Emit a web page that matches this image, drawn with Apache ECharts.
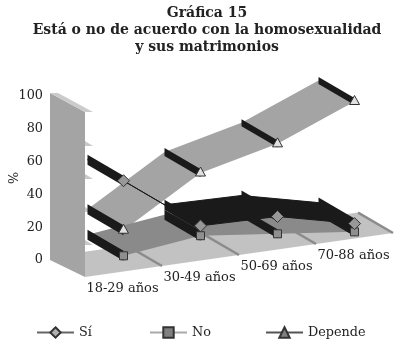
<!DOCTYPE html>
<html><head><meta charset="utf-8">
<style>html,body{margin:0;padding:0;background:#fff}#c{width:409px;height:350px}</style>
<script src="https://cdn.jsdelivr.net/npm/echarts@6/dist/echarts.min.js"></script>
</head><body><div id="c"></div>
<script>
const titleText = 'Gráfica 15\nEstá o no de acuerdo con la homosexualidad\ny sus matrimonios';
const categories = ['18-29 años','30-49 años','50-69 años','70-88 años'];
const siValues = [55,21,20,9];
const noValues = [9.5,15,9.5,4];
const dependeValues = [25,53,64,83];
const valueTicks = [20,40,60,80];

const SLOPE = 0.143, X0 = 85, DX = -36, DY = -21, FONT = 'DejaVu Serif';
const chart = echarts.init(document.getElementById('c'), null, {renderer:'canvas'});

// band-aware coordinate: fractional category positions go through the axis band width
function band(api, cat, val) {
  const c = api.coord([0, val]);
  return [c[0] + cat*api.size([1,0])[0], c[1]];
}
// oblique projection: then shear and depth (0 front .. 1 rear)
function proj(api, cat, val, depth) {
  const c = band(api, cat, val);
  const d = depth || 0;
  return [c[0] + DX*d, c[1] - (c[0]-X0)*SLOPE + DY*d];
}
const poly = (points, fill, extra) => ({type:'polygon', shape:{points}, style:Object.assign({fill}, extra||{})});

function sceneItem(params, api) {
  const i = api.value(0), ch = [];
  if (params.dataIndex === 0) {
    const a = proj(api,-0.5,0), b = proj(api,3.5,0), c = proj(api,3.5,0,0.97);
    ch.push(poly([a,b,c,[a[0],c[1]+(c[0]-a[0])*SLOPE]], '#c2c2c2'));
    // wall
    const t = band(api,-0.5,100), o = band(api,-0.5,0);
    const wx = o[0]-35;
    ch.push(poly([[wx,t[1]-19],t,o,[wx,o[1]-17]], '#a4a4a4'));
    ch.push(poly([[wx,t[1]-19],[wx+8,t[1]-19],[t[0]+8,t[1]],t], '#cbcbcb'));
  }
  const f = proj(api,i+0.5,0), r = proj(api,i+0.5,0,0.97);
  ch.push({type:'line', shape:{x1:r[0],y1:r[1],x2:f[0],y2:f[1]}, style:{stroke:'#8c8c8c',lineWidth:2.5}});
  return {type:'group', children:ch};
}
function tabItem(params, api) {
  const p = band(api, -0.5, api.value(0));
  return poly([[p[0],p[1]-4],[p[0]+8,p[1]+1],[p[0],p[1]+1]], '#c8c8c8');
}
function ribbonRender(values, fills, stroke) {
  return function(params, api) {
    const i = params.dataIndex;
    if (i >= values.length-1) return {type:'group', children:[]};
    const a = proj(api,i,values[i]), b = proj(api,i+1,values[i+1]);
    const ar = proj(api,i,values[i],1), br = proj(api,i+1,values[i+1],1);
    return poly([a,b,br,ar], fills[i], stroke ? {stroke, lineWidth:1} : {});
  };
}
function barRender(values, thick) {
  return function(params, api) {
    const v = values[params.dataIndex], i = params.dataIndex;
    const a = proj(api,i,v), r = proj(api,i,v,1), h = thick[i]/2;
    return poly([[a[0],a[1]-h],[a[0],a[1]+h],[r[0],r[1]+h],[r[0],r[1]-h]], '#1b1a1a');
  };
}
function markerRender(values, kind) {
  return function(params, api) {
    const i = params.dataIndex, p = proj(api,i,values[i]);
    const x = p[0], y = p[1];
    const st = {stroke:'#333', lineWidth:1};
    if (kind === 'diamond') return poly([[x,y-6],[x+6,y],[x,y+6],[x-6,y]], '#989898', st);
    if (kind === 'square') return {type:'rect', shape:{x:x-4,y:y-4,width:8,height:8}, style:Object.assign({fill:'#8f8f8f'},st)};
    return poly([[x,y-6],[x+5,y+3],[x-5,y+3]], '#e0e0e0', st);
  };
}
function labelItem(params, api) {
  const p = proj(api, api.value(0), 0);
  return {type:'text', x:p[0]-1, y:p[1]+17, style:{text:categories[api.value(0)], font:'13px "'+FONT+'"', fill:'#222', textAlign:'center', textVerticalAlign:'middle'}};
}
const catData = categories.map((c,i)=>[i,0]);
const custom = (name, z, renderItem, data) => ({type:'custom', name, z, renderItem, data:data||catData, clip:false, silent:true, encode:{x:0,y:1}, animation:false});
const legendSeries = (name, symbol, size, lineColor, fill) => ({type:'line', name, data:[], symbol, symbolSize:size,
  lineStyle:{color:lineColor,width:2}, itemStyle:{color:fill,borderColor:'#333',borderWidth:1}});
const legendText = {fontFamily:FONT, fontSize:12.8, color:'#222'};
const legendOf = (name,left) => ({left, top:326, itemWidth:37, itemHeight:13, itemGap:0, data:[name], textStyle:legendText, selectedMode:false, padding:0});

chart.setOption({
  animation:false, backgroundColor:'#fff',
  title:{text:titleText, left:202, top:0, textAlign:'center',
    textStyle:{fontFamily:FONT, fontWeight:'bold', fontSize:14, lineHeight:17, color:'#222'}},
  grid:[
    {left:85, right:16, top:112, bottom:73, outerBoundsMode:'none'},
    {left:85, right:16, top:96, bottom:90, outerBoundsMode:'none'}
  ],
  legend:[legendOf('Sí',36), legendOf('No',149), legendOf('Depende',265)],
  xAxis:[
    {type:'category', data:categories, axisLine:{show:false}, axisTick:{show:false}, axisLabel:{show:false}, splitLine:{show:false}},
    {gridIndex:1, type:'category', data:categories, show:false}
  ],
  yAxis:[
    {type:'value', min:0, max:100, interval:20, axisLine:{show:false}, axisTick:{show:false}, splitLine:{show:false}, axisLabel:{show:false}},
    {gridIndex:1, type:'value', min:0, max:100, interval:20, name:'%', nameLocation:'middle', nameRotate:90, nameGap:64, nameMoveOverlap:false,
      nameTextStyle:{fontFamily:FONT, fontSize:12.8, color:'#222'},
      axisLine:{show:false}, axisTick:{show:false}, splitLine:{show:false},
      axisLabel:{margin:42, fontFamily:FONT, fontSize:12.8, color:'#222'}}
  ],
  series:[
    legendSeries('Sí','diamond',14,'#666','#b0b0b0'),
    legendSeries('No','rect',8,'#aaa','#808080'),
    legendSeries('Depende','triangle',10,'#555','#808080'),
    custom('scene',1,sceneItem),
    custom('tabs',2,tabItem,valueTicks.map(v=>[v])),
    custom('Depende ribbon',3,ribbonRender(dependeValues,['#a4a4a4','#a4a4a4','#a4a4a4'])),
    custom('No ribbon',4,ribbonRender(noValues,['#8a8a8a','#8a8a8a','#8a8a8a'])),
    custom('Sí ribbon',5,ribbonRender(siValues,['#1b1a1a','#1b1a1a','#1b1a1a'],'#1b1a1a')),
    custom('Depende bars',6,barRender(dependeValues,[10,8,7,7])),
    custom('No bars',7,barRender(noValues,[10,10,9,9])),
    custom('Sí bars',8,barRender(siValues,[10,10,10,10])),
    custom('Depende markers',9,markerRender(dependeValues,'triangle')),
    custom('No markers',9,markerRender(noValues,'square')),
    custom('Sí markers',10,markerRender(siValues,'diamond')),
    custom('labels',11,labelItem)
  ]
});
</script></body></html>
